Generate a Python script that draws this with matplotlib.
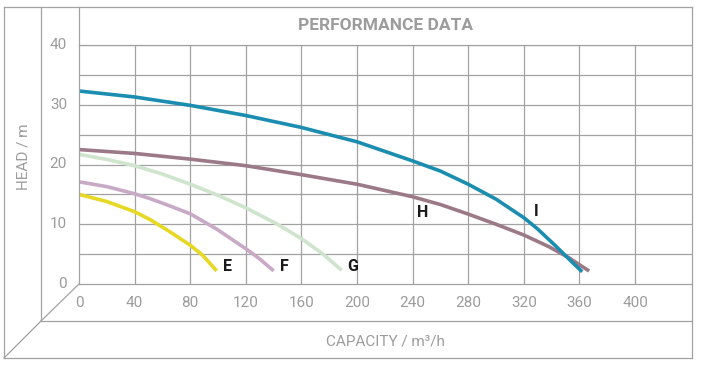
import matplotlib
matplotlib.use("Agg")
import matplotlib.pyplot as plt
from matplotlib.lines import Line2D

# ---- data ----
e_x = [0, 20, 40, 51, 65, 80, 89, 99]
e_h = [15.0, 13.8, 12.1, 10.8, 8.8, 6.5, 4.8, 2.2]
f_x = [0, 20, 40, 51, 65, 80, 99, 120, 130, 140]
f_h = [17.1, 16.3, 15.1, 14.3, 13.1, 11.75, 9.2, 5.9, 4.2, 2.2]
g_x = [0, 20, 40, 60, 80, 100, 120, 142, 160, 175, 189]
g_h = [21.7, 20.85, 19.8, 18.4, 16.7, 14.85, 12.75, 10.1, 7.6, 5.1, 2.3]
h_x = [0, 40, 80, 120, 160, 200, 240, 260, 280, 300, 320, 338, 352, 367]
h_h = [22.5, 21.85, 20.9, 19.8, 18.3, 16.7, 14.6, 13.3, 11.7, 10.0, 8.2, 6.25, 4.45, 2.17]
i_x = [0, 40, 80, 120, 160, 200, 240, 260, 280, 300, 320, 330, 343, 355, 362]
i_h = [32.3, 31.3, 29.9, 28.2, 26.2, 23.8, 20.6, 18.9, 16.7, 14.2, 11.1, 9.2, 6.35, 3.6, 2.05]

series_names = ["E", "F", "G", "H", "I"]
label_pos = {"E": (106.5, 3.0), "F": (147.5, 3.0), "G": (197, 3.0),
             "H": (247.5, 11.9), "I": (328.8, 12.2)}
x_ticks = [0, 40, 80, 120, 160, 200, 240, 280, 320, 360, 400]
y_ticks = [0, 10, 20, 30, 40]
title = "PERFORMANCE DATA"
xlabel = "CAPACITY / m³/h"
ylabel = "HEAD / m"

colors = {"E": "#e6d823", "F": "#c8a9c6", "G": "#cfe4cd", "H": "#9b7987", "I": "#1a8db0"}
data = {"E": (e_x, e_h), "F": (f_x, f_h), "G": (g_x, g_h), "H": (h_x, h_h), "I": (i_x, i_h)}

plt.rcParams['font.family'] = ['Roboto', 'DejaVu Sans']

W, H = 701, 368
fig = plt.figure(figsize=(W / 100, H / 100), dpi=100)

def fx(px):
    return px / W

def fy(py):
    return 1 - py / H

GRAY = "#a2a2a2"
TXT = "#9c9c9c"

ax = fig.add_axes([fx(79), fy(284), fx(692) - fx(79), fy(45) - fy(284)])
ax.set_xlim(0, 441)
ax.set_ylim(0, 40)
for s in ax.spines.values():
    s.set_visible(False)
ax.set_xticks([])
ax.set_yticks([])
# grid
for xv in x_ticks[1:]:
    ax.axvline(xv, color=GRAY, lw=0.9, zorder=1)
for yv in range(5, 45, 5):
    ax.axhline(yv, color=GRAY, lw=0.9, zorder=1)

for name in series_names:
    xs, hs = data[name]
    ax.plot(xs, hs, color=colors[name], lw=2.6, solid_capstyle='butt',
            solid_joinstyle='round', zorder=3)
    lx, ly = label_pos[name]
    ax.text(lx, ly, name, ha='center', va='center', fontsize=11.5,
            fontweight='bold', color='#1a1a1a', zorder=4)

# tick labels
for xv in x_ticks:
    ax.text(xv, -3.2, str(xv), ha='center', va='center', fontsize=11,
            color=TXT, clip_on=False)
for yv in y_ticks:
    ax.text(-1.5 * 441 / 613 * 8, yv, str(yv), ha='right', va='center',
            fontsize=11, color=TXT, clip_on=False)

# frame lines (pixel coords)
segs = [
    [(4, 7), (692, 7)], [(4, 7), (4, 358)], [(4, 358), (692, 358)], [(692, 7), (692, 358)],
    [(41, 7), (41, 321)], [(41, 321), (692, 321)],
    [(79, 7), (79, 284)], [(79, 284), (692, 284)], [(79, 45), (692, 45)],
    [(79, 284), (41, 321)], [(41, 321), (4, 358)],
]
for (x0, y0), (x1, y1) in segs:
    fig.add_artist(Line2D([fx(x0), fx(x1)], [fy(y0), fy(y1)], color=GRAY, lw=0.9,
                          transform=fig.transFigure))

fig.text(fx(385.5), fy(26), title, ha='center', va='center', fontsize=12.5,
         fontweight='bold', color=TXT)
fig.text(fx(385.5), fy(341), xlabel, ha='center', va='center', fontsize=11, color=TXT)
fig.text(fx(24), fy(157), ylabel, ha='center', va='center', fontsize=11, color=TXT,
         rotation=90)

fig.savefig("out.png", dpi=100)
